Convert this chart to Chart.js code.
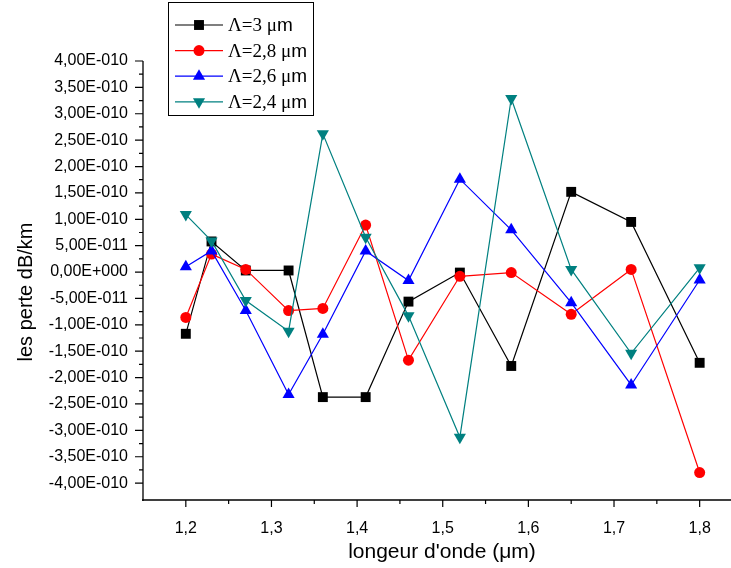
<!DOCTYPE html>
<html>
<head>
<meta charset="utf-8">
<script src="https://cdn.jsdelivr.net/npm/chart.js@4.4.1/dist/chart.umd.min.js"></script>
<style>
  html, body { margin: 0; padding: 0; background: #fff; }
  #wrap { width: 731px; height: 568px; position: relative; }
</style>
</head>
<body>
<div id="wrap"><canvas id="chart"></canvas></div>
<script>
// wavelengths (µm)
const lambda = [1.2, 1.23, 1.27, 1.32, 1.36, 1.41, 1.46, 1.52, 1.58, 1.65, 1.72, 1.8];

// losses dB/km for each period
const perte30 = [-1.17e-10, 0.58e-10, 0.03e-10, 0.03e-10, -2.37e-10, -2.37e-10, -0.56e-10, -0.01e-10, -1.78e-10, 1.52e-10, 0.95e-10, -1.72e-10];
const perte28 = [-0.86e-10, 0.34e-10, 0.05e-10, -0.73e-10, -0.69e-10, 0.89e-10, -1.67e-10, -0.08e-10, -0.01e-10, -0.80e-10, 0.05e-10, -3.80e-10];
const perte26 = [0.10e-10, 0.40e-10, -0.73e-10, -2.32e-10, -1.18e-10, 0.40e-10, -0.16e-10, 1.76e-10, 0.80e-10, -0.58e-10, -2.14e-10, -0.15e-10];
const perte24 = [1.09e-10, 0.59e-10, -0.54e-10, -1.12e-10, 2.62e-10, 0.66e-10, -0.83e-10, -3.13e-10, 3.29e-10, 0.05e-10, -1.54e-10, 0.08e-10];

const seriesNames = ["Λ=3 μ", "Λ=2,8 μ", "Λ=2,6 μ", "Λ=2,4 μ"];

// axis ticks
const xTicks = [1.2, 1.3, 1.4, 1.5, 1.6, 1.7, 1.8];
const xMinorTicks = [1.25, 1.35, 1.45, 1.55, 1.65, 1.75];
const yTicks = [-4e-10, -3.5e-10, -3e-10, -2.5e-10, -2e-10, -1.5e-10, -1e-10, -0.5e-10, 0,
                0.5e-10, 1e-10, 1.5e-10, 2e-10, 2.5e-10, 3e-10, 3.5e-10, 4e-10];
const yMinorTicks = [-3.75e-10, -3.25e-10, -2.75e-10, -2.25e-10, -1.75e-10, -1.25e-10, -0.75e-10, -0.25e-10,
                     0.25e-10, 0.75e-10, 1.25e-10, 1.75e-10, 2.25e-10, 2.75e-10, 3.25e-10, 3.75e-10];

function sciLabel(v) {
  if (Math.abs(v) < 1e-20) return "0,00E+000";
  const e = Math.floor(Math.log10(Math.abs(v)) + 1e-9);
  const m = v / Math.pow(10, e);
  const s = e < 0 ? "-" : "+";
  return m.toFixed(2).replace(".", ",") + "E" + s + String(Math.abs(e)).padStart(3, "0");
}

function pts(ys) {
  return lambda.map((x, i) => ({ x: x, y: ys[i] }));
}

const styles = [
  { color: "#000000", pointStyle: "rect", radius: 7, rotation: 0 },
  { color: "#ff0000", pointStyle: "circle", radius: 5.5, rotation: 0 },
  { color: "#0000ff", pointStyle: "triangle", radius: 7, rotation: 0 },
  { color: "#008080", pointStyle: "triangle", radius: 7, rotation: 180 }
];
const allSeries = [perte30, perte28, perte26, perte24];

const datasets = allSeries.map((ys, i) => ({
  label: seriesNames[i] + "m",
  data: pts(ys),
  borderColor: styles[i].color,
  backgroundColor: styles[i].color,
  pointBackgroundColor: styles[i].color,
  pointBorderColor: styles[i].color,
  pointBorderWidth: 0,
  borderWidth: 1.2,
  pointStyle: styles[i].pointStyle,
  pointRadius: styles[i].radius,
  pointRotation: styles[i].rotation,
  tension: 0,
  fill: false,
  order: 4 - i
}));

const axesPlugin = {
  id: "originAxes",
  afterDraw(chart) {
    const ctx = chart.ctx;
    const a = chart.chartArea;
    const xs = chart.scales.x, ys = chart.scales.y;
    ctx.save();
    ctx.strokeStyle = "#000";
    ctx.lineWidth = 1.3;
    ctx.beginPath();
    ctx.moveTo(a.left, a.top);
    ctx.lineTo(a.left, a.bottom + 1);
    ctx.moveTo(a.left - 1, a.bottom);
    ctx.lineTo(chart.width, a.bottom);
    ctx.stroke();

    ctx.lineWidth = 1.2;
    ctx.beginPath();
    yTicks.forEach(v => { const p = ys.getPixelForValue(v); ctx.moveTo(a.left, p); ctx.lineTo(a.left - 8, p); });
    yMinorTicks.forEach(v => { const p = ys.getPixelForValue(v); ctx.moveTo(a.left, p); ctx.lineTo(a.left - 4, p); });
    xTicks.forEach(v => { const p = xs.getPixelForValue(v); ctx.moveTo(p, a.bottom); ctx.lineTo(p, a.bottom + 7); });
    xMinorTicks.forEach(v => { const p = xs.getPixelForValue(v); ctx.moveTo(p, a.bottom); ctx.lineTo(p, a.bottom + 4); });
    ctx.stroke();

    // axis titles
    ctx.fillStyle = "#000";
    ctx.font = "21px 'Liberation Sans', Arial, sans-serif";
    ctx.textAlign = "center";
    ctx.textBaseline = "middle";
    ctx.fillText("longeur d'onde (μm)", 442, 552);
    ctx.font = "20px 'Liberation Sans', Arial, sans-serif";
    ctx.save();
    ctx.translate(26, 292);
    ctx.rotate(-Math.PI / 2);
    ctx.fillText("les perte dB/km", 0, 0);
    ctx.restore();

    // legend box
    const bx = 168, by = 2, bw = 145, bh = 113;
    ctx.fillStyle = "#fff";
    ctx.fillRect(bx, by, bw, bh);
    ctx.strokeStyle = "#000";
    ctx.lineWidth = 1;
    ctx.strokeRect(bx + 0.5, by + 0.5, bw, bh);
    chart.data.datasets.forEach((ds, i) => {
      const ry = 25 + i * 25.6;
      ctx.strokeStyle = ds.borderColor;
      ctx.lineWidth = 1.2;
      ctx.beginPath();
      ctx.moveTo(175, ry);
      ctx.lineTo(223, ry);
      ctx.stroke();
      ctx.fillStyle = ds.borderColor;
      Chart.helpers.drawPoint(ctx, { pointStyle: ds.pointStyle, radius: ds.pointRadius, rotation: ds.pointRotation }, 199, ry);
      ctx.fillStyle = "#000";
      ctx.textAlign = "left";
      ctx.textBaseline = "middle";
      ctx.font = "19px 'Liberation Serif', 'Times New Roman', serif";
      const t = seriesNames[i];
      ctx.fillText(t, 228, ry + 1);
      const w = ctx.measureText(t).width;
      ctx.font = "19px 'Liberation Sans', Arial, sans-serif";
      ctx.fillText("m", 228 + w, ry + 1);
    });
    ctx.restore();
  }
};

new Chart(document.getElementById("chart"), {
  type: "line",
  data: { datasets: datasets },
  options: {
    responsive: true,
    maintainAspectRatio: false,
    animation: false,
    events: [],
    layout: { autoPadding: false, padding: { top: 61, right: 0, left: 0, bottom: 0 } },
    plugins: { legend: { display: false }, tooltip: { enabled: false } },
    scales: {
      x: {
        type: "linear",
        min: 1.15,
        max: 1.8366,
        grid: { display: false, drawTicks: false },
        border: { display: false },
        afterBuildTicks: s => { s.ticks = xTicks.map(v => ({ value: v })); },
        afterFit: s => { s.height = 68; s.paddingLeft = 0; s.paddingRight = 0; },
        ticks: {
          padding: 19,
          color: "#000",
          maxRotation: 0,
          font: { family: "'Liberation Sans', Arial, sans-serif", size: 16 },
          callback: v => String(Math.round(v * 10) / 10).replace(".", ",")
        }
      },
      y: {
        min: -4.32e-10,
        max: 4e-10,
        grid: { display: false, drawTicks: false },
        border: { display: false },
        afterBuildTicks: s => { s.ticks = yTicks.map(v => ({ value: v })); },
        afterFit: s => { s.width = 143; s.paddingTop = 0; s.paddingBottom = 0; },
        ticks: {
          padding: 15,
          color: "#000",
          font: { family: "'Liberation Sans', Arial, sans-serif", size: 16 },
          callback: v => sciLabel(v)
        }
      }
    }
  },
  plugins: [axesPlugin]
});
</script>
</body>
</html>
